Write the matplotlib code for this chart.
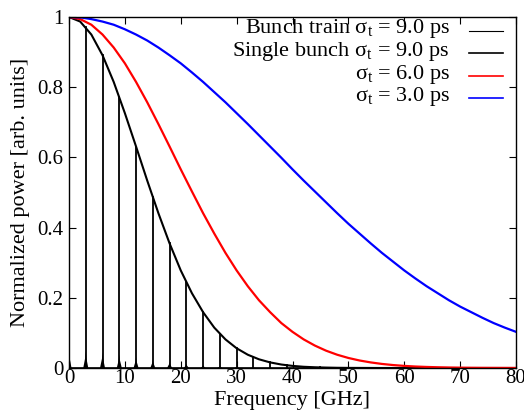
import matplotlib
matplotlib.use("Agg")
import matplotlib.pyplot as plt

plt.rcParams['font.family'] = ['Liberation Serif', 'DejaVu Serif']
plt.rcParams['mathtext.fontset'] = 'custom'
plt.rcParams['mathtext.rm'] = 'Liberation Serif'

# single bunch form factors, frequency in GHz
freq = [0, 2, 4, 6, 8, 10, 12, 14, 16, 18, 20, 22, 24, 26, 28, 30, 32, 34, 36, 38, 40,
        42, 44, 46, 48, 50, 52, 54, 56, 58, 60, 62, 64, 66, 68, 70, 72, 74, 76, 78, 80]
p_9ps = [1.0, 0.987, 0.950, 0.891, 0.815, 0.726, 0.631, 0.534, 0.441, 0.355, 0.278,
         0.213, 0.159, 0.115, 0.0815, 0.0562, 0.0378, 0.0248, 0.0159, 0.0099, 0.0060,
         0.0035, 0.0021, 0.0012, 0.0006, 0.0003, 0.0002, 0.0001, 0, 0, 0,
         0, 0, 0, 0, 0, 0, 0, 0, 0, 0]
p_6ps = [1.0, 0.994, 0.978, 0.950, 0.913, 0.868, 0.815, 0.757, 0.695, 0.631, 0.566,
         0.503, 0.441, 0.383, 0.328, 0.278, 0.233, 0.193, 0.159, 0.128, 0.103,
         0.0815, 0.0639, 0.0494, 0.0378, 0.0286, 0.0214, 0.0159, 0.0116, 0.0084, 0.0060,
         0.0042, 0.0030, 0.0021, 0.0014, 0.0009, 0.0006, 0.0004, 0.0003, 0.0002, 0.0001]
p_3ps = [1.0, 0.999, 0.994, 0.987, 0.978, 0.965, 0.950, 0.933, 0.913, 0.891, 0.868,
         0.842, 0.815, 0.786, 0.757, 0.726, 0.695, 0.663, 0.631, 0.599, 0.566,
         0.534, 0.503, 0.472, 0.441, 0.411, 0.383, 0.355, 0.328, 0.303, 0.278,
         0.255, 0.233, 0.213, 0.193, 0.175, 0.159, 0.143, 0.128, 0.115, 0.103]

# bunch train harmonics (~3 GHz spacing) and their peak heights
harm_freq = [0, 3.0, 6.0, 9.0, 12.0, 15.0, 18.0, 21.0, 24.0, 27.0, 30.0, 33.0, 36.0,
             39.0, 42.0, 45.0, 48.0]
harm_peak = [1.0, 0.972, 0.891, 0.772, 0.631, 0.487, 0.355, 0.244, 0.159, 0.097, 0.056,
             0.031, 0.016, 0.0077, 0.0035, 0.0015, 0.0006]
foot_frac = 0.05

fig = plt.figure(figsize=(5.24, 4.16), dpi=100)
ax = fig.add_axes([69/524, 1-368/416, 447/524, 351/416])

# bunch train: thin spikes with a small foot at each harmonic
ax.plot([0, 80], [0, 0], color='black', lw=1.2)
for f, p in zip(harm_freq, harm_peak):
    w = 0.45
    ax.fill([f-w, f-0.1, f, f+0.1, f+w], [0, 0.6*foot_frac*p, foot_frac*p, 0.6*foot_frac*p, 0],
            color='black', lw=0)
    ax.plot([f, f], [0, p], color='black', lw=1.3)

ax.plot(freq, p_9ps, color='black', lw=1.5)
ax.plot(freq, p_6ps, color='red', lw=1.6)
ax.plot(freq, p_3ps, color='blue', lw=1.6)

ax.set_xlim(0, 80)
ax.set_ylim(0, 1)
ax.set_xticks(range(0, 81, 10))
ax.set_yticks([0, 0.2, 0.4, 0.6, 0.8, 1])
ax.set_yticklabels(['0', '0.2', '0.4', '0.6', '0.8', '1'])
ax.tick_params(direction='in', top=True, right=True, length=5, labelsize=15)
ax.tick_params(axis='x', pad=1)
ax.tick_params(axis='y', pad=4)
ax.set_xlabel('Frequency [GHz]', fontsize=16, labelpad=2)
ax.set_ylabel('Normalized power [arb. units]', fontsize=16, labelpad=5)
for s in ax.spines.values():
    s.set_linewidth(1.0)

# gnuplot-like key: right-aligned text, sample line to the right
labels = ['Bunch train σ$_\\mathrm{t}$ = 9.0 ps', 'Single bunch σ$_\\mathrm{t}$ = 9.0 ps',
          'σ$_\\mathrm{t}$ = 6.0 ps', 'σ$_\\mathrm{t}$ = 3.0 ps']
colors = ['black', 'black', 'red', 'blue']
widths = [0.8, 1.2, 1.2, 1.2]
text_base = [33, 56, 79, 101]
line_y = [31, 53, 76, 98]
for lab, c, lw, tb, ly in zip(labels, colors, widths, text_base, line_y):
    ax.text(0.852, 1 - (tb - 17) / 351, lab, transform=ax.transAxes,
            ha='right', va='baseline', fontsize=16)
    yy = 1 - (ly - 17) / 351
    ax.plot([0.895, 0.971], [yy, yy], transform=ax.transAxes, color=c, lw=lw)

fig.savefig('out.png', dpi=100)
